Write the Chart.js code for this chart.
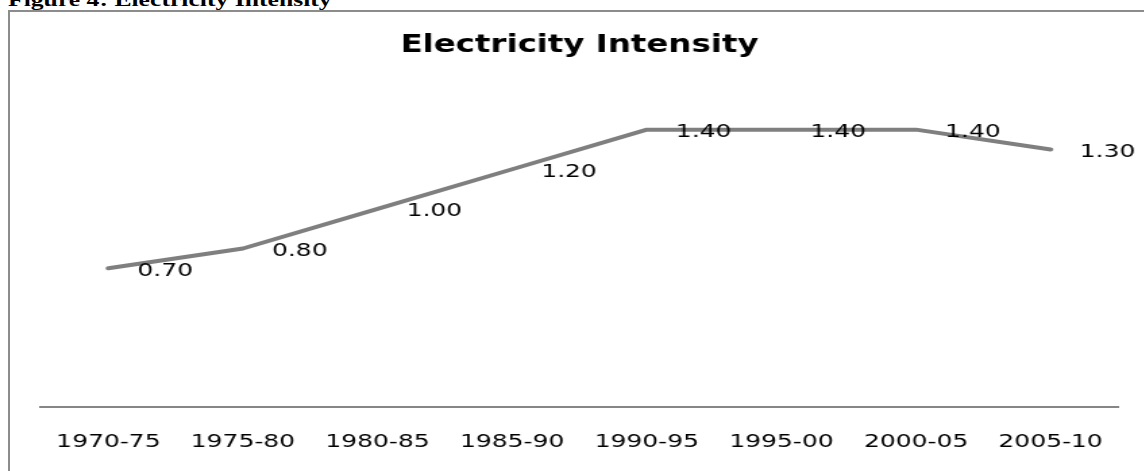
<!DOCTYPE html>
<html>
<head>
<meta charset="utf-8">
<script src="https://cdn.jsdelivr.net/npm/chart.js@4"></script>
<style>
  html, body { margin: 0; padding: 0; background: #fff; }
  body { width: 1144px; height: 471px; overflow: hidden; position: relative; }
  /* the figure is drawn horizontally widened */
  .stretch { position: absolute; transform: scaleX(1.35); transform-origin: 0 0; }
  #caption {
    left: 8px; top: -10px;
    font: bold 19px "Liberation Serif", "Times New Roman", serif;
    line-height: 19px; white-space: nowrap; color: #000;
  }
  #frame {
    position: absolute; left: 8px; top: 10px; width: 1200px; height: 520px;
    border-left: 2px solid #8c8c8c; border-top: 2px solid #8c8c8c;
  }
  #chartBox { left: 0; top: 0; width: 847.4px; height: 471px; }
</style>
</head>
<body>
<div id="caption" class="stretch">Figure 4: Electricity Intensity</div>
<div id="frame"></div>
<div id="chartBox" class="stretch"><canvas id="chart"></canvas></div>
<script>
// Five-year periods and electricity intensity for each
const categories = ['1970-75', '1975-80', '1980-85', '1985-90', '1990-95', '1995-00', '2000-05', '2005-10'];
const intensity = [0.70, 0.80, 1.00, 1.20, 1.40, 1.40, 1.40, 1.30];

// Writes each point's value just to the right of it
const valueLabels = {
  id: 'valueLabels',
  afterDatasetsDraw(chart) {
    const ctx = chart.ctx;
    const meta = chart.getDatasetMeta(0);
    ctx.save();
    ctx.font = '18.5px "DejaVu Sans"';
    ctx.fillStyle = '#000';
    ctx.textAlign = 'left';
    ctx.textBaseline = 'middle';
    meta.data.forEach((pt, i) => {
      ctx.fillText(intensity[i].toFixed(2), pt.x + 21.5, pt.y + 2.5);
    });
    ctx.restore();
  }
};

new Chart(document.getElementById('chart'), {
  type: 'line',
  data: {
    labels: categories,
    datasets: [{
      data: intensity,
      borderColor: '#7f7f7f',
      borderWidth: 4,
      borderCapStyle: 'round',
      borderJoinStyle: 'round',
      pointRadius: 0,
      tension: 0,
      fill: false,
      clip: false
    }]
  },
  options: {
    responsive: true,
    maintainAspectRatio: false,
    animation: false,
    layout: { padding: { top: 16, left: 30.4, right: 19.3, bottom: 17.8 } },
    plugins: {
      legend: { display: false },
      tooltip: { enabled: false },
      title: {
        display: true,
        text: 'Electricity Intensity',
        color: '#000',
        font: { family: '"DejaVu Sans"', size: 24, weight: 'bold' },
        padding: { top: 15, bottom: 30.2 }
      }
    },
    scales: {
      x: {
        offset: true,
        grid: { display: false, drawTicks: false },
        border: { display: true, color: '#868686', width: 2 },
        ticks: {
          color: '#000',
          font: { family: '"DejaVu Sans"', size: 18.5 },
          padding: 24,
          maxRotation: 0,
          autoSkip: false
        },
        // room for the labels below the axis line: gap + one text line
        afterFit(scale) { scale.height = 46.2; }
      },
      y: { display: false, min: 0, max: 1.6 }
    }
  },
  plugins: [valueLabels]
});
</script>
</body>
</html>
